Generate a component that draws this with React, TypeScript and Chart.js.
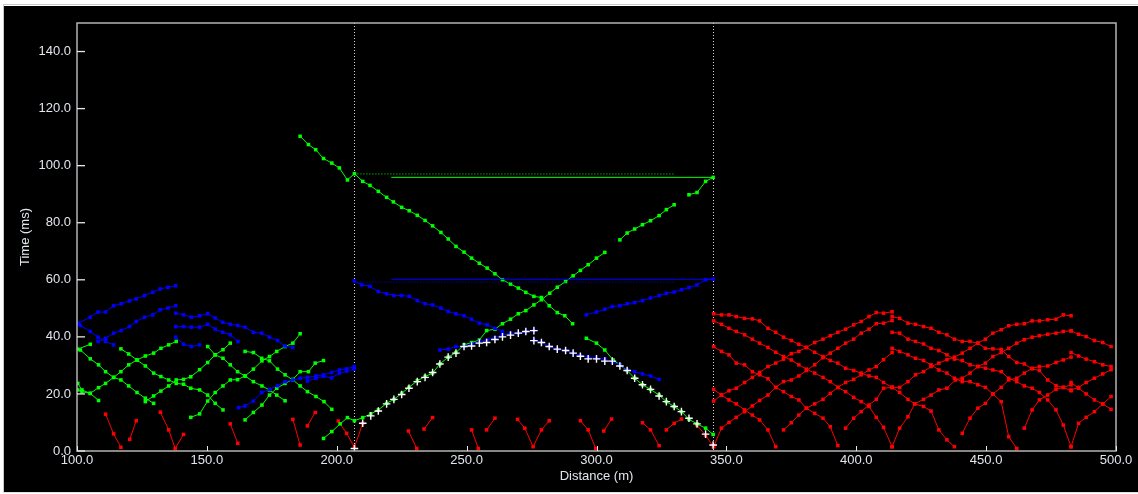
import React, { useEffect, useRef } from "react";
import { Chart, registerables } from "chart.js";

Chart.register(...registerables);

type Pt = [number, number];

// ---------- axes ----------
const xTickValues = [100, 150, 200, 250, 300, 350, 400, 450, 500];
const yTickValues = [0, 20, 40, 60, 80, 100, 120, 140];
const shotLines = [206.8, 345];

// ---------- green travel-time curves ----------
const greenLines: Pt[][] = [
  [[100.3, 35.7], [105.1, 37.4]],
  [[101.3, 35.4], [105.1, 32.3], [108.3, 30.2], [111, 27.8], [114.1, 25.8], [116.9, 24.9], [119.9, 22.8], [123.1, 20.5], [126.3, 18.5], [129.5, 16.7]],
  [[100.3, 21.4], [101.9, 20.8], [105.1, 20.2], [108.3, 22.2], [111, 23.7], [114.1, 25.8], [116.9, 27.8], [119.9, 30.2], [123.1, 31.9], [126.3, 33.3], [129.5, 34.3], [132.3, 36.0], [135.3, 37.2], [138.2, 38.4]],
  [[100.3, 23.7], [101.9, 21.4], [105.1, 20.2], [108.3, 17.7]],
  [[116.9, 35.8], [119.9, 34.0], [123.1, 31.9], [126.3, 29.8], [129.5, 27.3], [132.3, 26.1], [135.3, 24.9], [138.2, 23.7], [141, 23.4], [143.8, 22.0], [147.2, 21.4], [150.3, 19.6], [153.2, 16.7], [156.2, 14.4]],
  [[126.3, 17.3], [129.5, 19.3], [132.3, 21.0], [135.3, 22.8], [138.2, 24.9], [141, 25.1], [143.8, 26.0], [147.2, 28.5], [150.3, 31.0], [153.2, 33.7], [156.2, 35.5], [159, 37.8]],
  [[150.3, 36.6], [153.2, 33.7], [156.2, 32.5], [159, 30.2], [161.8, 27.8], [164.7, 26.3], [167.9, 24.3], [171.2, 22.8], [174.1, 21.4], [176.9, 19.6], [180.1, 17.6]],
  [[143.8, 11.8], [147.2, 13.0], [150.3, 17.5], [153.2, 20.5], [156.2, 22.8], [159, 24.9], [161.8, 25.0], [164.7, 26.3], [167.9, 28.7], [171.2, 31.6], [174.1, 33.1], [176.9, 34.9], [180.1, 36.6], [183.1, 37.8], [185.9, 41.1]],
  [[164.7, 34.9], [167.9, 34.5], [171.1, 32.5], [174.1, 31.6], [177.2, 28.7], [180.1, 26.7], [183.1, 24.9], [185.9, 22.8], [188.7, 20.8], [192, 19.1], [195.1, 17.3], [198.1, 14.6]],
  [[164.7, 10.9], [167.9, 13.5], [171.2, 16.1], [174.1, 19.6], [176.9, 22.0], [180.1, 23.7], [183.1, 25.1], [185.9, 27.8], [189.1, 27.8], [191.7, 30.8], [194.9, 31.7]],
  [[194.9, 4.4], [198.1, 6.8], [201.3, 9.5], [204.1, 11.7], [206.8, 10.6], [210, 11.7], [213.1, 13.0], [216, 14.4], [219.2, 16.7], [222, 18.1], [225, 20.2], [227.8, 22.3], [231, 24.6], [234, 26.1], [236.9, 27.3], [239.7, 30.5], [242.9, 32.9], [245.9, 34.5], [249, 37.2], [251.9, 38.0], [254.9, 38.9], [257.7, 42.2], [260.9, 42.7], [263.8, 44.6], [266.9, 46.2], [269.9, 48.1], [272.8, 49.2], [275.9, 51.2], [278.8, 53.0], [282, 55.3], [284.9, 57.4], [288.1, 59.4], [291, 61.4], [293.8, 63.3], [296.8, 65.3], [300, 67.6], [303.2, 69.6]],
  [[309, 74.0], [311.8, 76.4], [314.7, 77.8], [317.7, 79.3], [320.8, 80.7], [324.1, 82.5], [326.9, 84.6], [329.9, 86.3]],
  [[335.6, 89.8], [338.7, 90.6], [342, 94.5], [344.9, 95.9]],
  [[185.9, 110.3], [189.1, 107.4], [191.9, 105.6], [194.9, 102.5], [198.1, 100.9], [201, 99.2], [204.1, 95.0], [206.8, 97.2], [210, 94.5], [212.8, 93.1], [216, 91.0], [219.2, 88.9], [221.8, 87.3], [225, 85.4], [227.9, 84.2], [231, 82.6], [234, 80.8], [236.9, 78.9], [240.1, 76.6], [242.9, 74.3], [245.9, 71.7], [249, 69.7], [251.9, 67.6], [254.9, 65.8], [257.9, 64.1], [260.9, 62.1], [263.8, 60.0], [266.9, 58.5], [269.9, 57.1], [272.8, 55.6], [275.9, 54.2], [278.8, 53.8], [281.8, 50.9], [284.9, 48.5], [287.8, 47.4], [290.8, 44.6]],
  [[296.1, 39.5], [300, 37.8], [303.2, 35.4], [306.4, 31.9], [309, 30.2], [311.8, 28.2], [314.7, 25.5], [317.7, 23.2], [320.8, 21.6], [324.1, 19.6], [326.9, 17.3], [329.9, 15.6], [332.7, 13.8], [335.6, 11.1], [338.7, 9.5], [342, 8.0], [344.9, 5.8]],
];

// ---------- blue travel-time curves ----------
const blueLines: Pt[][] = [
  [[100.6, 44.8], [105.1, 46.9], [108.1, 48.7], [111, 48.7], [114.1, 50.9], [117, 51.6], [120.2, 52.6], [122.8, 53.3], [126, 54.5], [129.2, 55.6], [132, 56.8], [135, 57.4], [138, 57.9]],
  [[101.3, 44.0], [105.1, 41.9], [108.1, 39.9], [111, 38.4], [114.1, 37.2]],
  [[108.1, 38.4], [111, 39.5], [114.1, 41.3], [117, 42.2], [120.2, 43.6], [122.8, 45.4], [126, 46.9], [129.2, 47.7], [132, 49.5], [135, 50.1], [138, 50.9]],
  [[138, 48.3], [141, 47.7], [144, 46.9], [147.2, 47.4], [150.3, 48.1], [153.2, 46.6], [156.1, 45.1], [159, 44.4], [161.9, 44.0], [164.7, 43.4], [167.9, 41.6], [171.1, 41.3], [174.1, 39.9], [177.2, 38.7], [180.1, 36.8], [183.1, 36.3]],
  [[138, 43.6], [141, 43.6], [144, 43.4], [147.2, 43.4], [150.3, 44.4], [153.2, 42.7], [156.1, 41.6], [159, 40.7], [162, 38.4]],
  [[138, 39.9], [141, 37.4], [144, 36.6], [147.2, 37.2]],
  [[162.2, 15.2], [164.7, 15.8], [167.9, 17.5], [171.1, 20.5], [174.1, 21.6], [177.2, 22.9], [180.1, 24.3], [183.1, 24.9], [185.9, 25.5], [188.7, 25.8], [192, 26.3], [194.9, 26.7], [198, 27.5], [201, 28.4], [203.8, 28.8], [206.7, 29.6]],
  [[188.7, 24.5], [192, 25.5], [194.9, 26.2], [198, 25.6], [201, 27.3], [203.8, 28.0], [206.7, 28.7]],
  [[206.8, 59.6], [209.6, 58.2], [212.8, 57.7], [216, 55.9], [219.2, 55.1], [222, 54.5], [225, 54.5], [227.9, 54.2], [231, 52.7], [234, 51.6], [236.9, 51.2], [240.1, 50.1], [242.9, 48.9], [245.9, 48.1], [249, 47.4], [251.9, 46.2], [254.9, 44.8], [257.9, 44.2], [260.9, 43.0], [263.8, 41.9]],
  [[296.1, 47.7], [300, 48.7], [303.2, 49.7], [306.1, 50.6], [309, 50.9], [311.8, 51.6], [314.7, 52.0], [317.7, 52.7], [320.8, 53.6], [324.1, 54.5], [326.9, 55.3], [329.9, 55.7], [332.7, 56.5], [335.6, 57.3], [338.7, 58.2], [342, 60.0], [344.9, 60.2]],
  [[239.7, 35.4], [242.9, 35.7], [245.9, 36.6], [249, 36.6], [251.9, 37.5], [254.9, 38.4], [257.9, 38.9], [260.9, 39.8], [263.8, 40.7], [266.9, 41.3], [269.9, 41.3], [272.8, 41.9], [275.9, 42.2]],
  [[275.9, 38.7], [278.8, 38.0], [281.8, 36.6], [284.9, 35.7], [288.1, 35.2], [291, 34.3], [293.8, 33.5], [296.8, 32.9], [300, 32.5], [303.2, 32.2], [306.1, 31.3], [309, 30.2], [311.8, 28.4], [314.7, 27.8], [317.7, 27.0], [320.8, 26.3], [324.1, 25.1]],
];

// ---------- red travel-time curves ----------
const redLines: Pt[][] = [
  // short near-shot picks
  [[111, 12.9], [114.1, 6.0], [116.9, 1.3]],
  [[120.3, 4.1], [122.8, 10.6]],
  [[132.1, 13.6], [135.3, 7.4], [137.8, 0.9], [141, 5.8]],
  [[159, 9.5], [161.9, 2.7]],
  [[183.1, 11.1], [185.9, 2.1]],
  [[188.7, 8.8], [191.7, 13.5]],
  [[200.6, 10.5], [203.8, 6.2], [206.8, 1.3], [210, 9.7]],
  [[227.6, 7.0], [230.8, 0.9]],
  [[233.6, 7.7], [236.9, 11.7]],
  [[251.9, 7.4], [254.5, 0.9]],
  [[257.7, 7.4], [260.9, 11.5]],
  [[269.6, 11.1], [272.4, 8.0], [275.6, 1.5], [278.8, 7.4], [281.8, 10.6]],
  [[293.8, 10.6], [296.8, 7.4], [299.7, 0.9]],
  [[302.8, 7.0], [305.8, 11.2]],
  [[317.7, 9.9], [320.8, 7.4], [324.1, 1.9]],
  [[326.9, 7.4], [329.9, 9.7], [332.7, 11.2]],
  [[338.7, 9.0], [342, 5.5], [345, 1.5]],
  // spread 345-414
  [[345.1, 48.1], [348.1, 47.7], [351, 47.7], [353.8, 47.1], [357, 46.5], [360, 46.3], [362.8, 45.6], [366, 43.0], [369, 41.6], [372, 39.9], [375, 38.7], [377.9, 37.4], [380.8, 36.3], [384, 34.6], [387.2, 33.1], [390, 31.7], [392.9, 30.8], [395.9, 29.0], [399, 28.2], [401.9, 27.3], [404.9, 26.3], [407.7, 25.8], [410.5, 24.0], [413.8, 22.3]],
  [[345.1, 45.6], [348.1, 44.4], [351, 43.0], [353.8, 41.9], [357, 40.7], [360, 39.2], [362.8, 37.8], [366, 36.3], [369, 34.6], [372, 33.1], [375, 31.9], [377.9, 30.2], [380.8, 28.7], [384, 27.3], [387.2, 25.8], [390, 24.3], [392.9, 22.3], [395.9, 20.8], [399, 18.8], [401.9, 17.3], [404.9, 15.6], [407.7, 11.8], [410.5, 8.3], [413.8, 1.5]],
  [[345.1, 36.6], [348.1, 34.9], [351, 33.7], [353.8, 30.8], [357, 30.2], [360, 27.8], [362.8, 26.7], [366, 25.3], [369, 22.3], [372, 20.8], [375, 19.1], [377.9, 17.9], [380.8, 15.0], [384, 13.2], [387.2, 11.5], [390, 8.5], [392.9, 1.9]],
  [[345.1, 21.6], [348.1, 19.6], [351, 17.9], [353.8, 16.5], [357, 14.4], [360, 12.6], [362.8, 10.9], [366, 7.4], [369, 1.5]],
  [[345.1, 17.5], [348.1, 19.6], [351, 21.1], [353.8, 22.0], [357, 24.0], [360, 25.8], [362.8, 27.5], [366, 29.6], [369, 30.8], [372, 32.2], [375, 34.1], [377.9, 34.9], [380.8, 36.3], [384, 38.0], [387.2, 39.2], [390, 40.4], [392.9, 41.6], [395.9, 42.7], [399, 44.2], [401.9, 45.4], [404.9, 47.1], [407.7, 48.5], [410.5, 48.3], [413.8, 48.8]],
  [[345.1, 1.5], [348.1, 8.0], [351, 10.0], [353.8, 11.8], [357, 13.8], [360, 15.8], [362.8, 17.7], [366, 19.6], [369, 22.3], [372, 24.3], [375, 24.9], [377.9, 26.3], [380.8, 28.2], [384, 30.2], [387.2, 32.7], [390, 34.3], [392.9, 36.0], [395.9, 37.8], [399, 39.2], [401.9, 41.3], [404.9, 42.7], [407.7, 44.6], [410.5, 44.8], [413.8, 45.7]],
  [[372, 7.4], [375, 9.9], [377.9, 12.6], [380.8, 15.0], [384, 16.5], [387.2, 18.1], [390, 20.2], [392.9, 22.3], [395.9, 24.0], [399, 25.1], [401.9, 26.7], [404.9, 28.4], [407.7, 29.6], [410.5, 32.0], [413.8, 34.5]],
  [[395.9, 8.0], [399, 11.5], [401.9, 13.8], [404.9, 16.1], [407.7, 18.1], [410.5, 22.0], [413.8, 22.3]],
  // spread 414-483
  [[413.8, 47.1], [416.7, 46.5], [419.9, 44.8], [422.8, 44.4], [425.9, 43.6], [428.8, 43.0], [431.8, 41.6], [434.9, 40.7], [437.8, 39.2], [440.8, 38.4], [443.8, 38.4], [446.8, 37.8], [449.7, 36.0], [452.6, 35.8], [455.8, 35.6], [458.7, 33.1], [461.8, 31.0], [464.7, 30.5], [467.7, 28.8], [470.5, 28.2], [473.7, 24.9], [476.9, 22.9], [479.7, 22.3], [482.7, 21.1]],
  [[413.8, 41.6], [416.7, 41.3], [419.9, 39.2], [422.8, 38.4], [425.9, 37.5], [428.8, 36.0], [431.8, 35.2], [434.9, 33.7], [437.8, 32.2], [440.8, 31.7], [443.8, 30.2], [446.8, 29.6], [449.7, 29.0], [452.6, 28.4], [455.8, 27.8], [458.7, 25.5], [461.8, 24.3], [464.7, 22.8], [467.7, 22.0], [470.5, 20.5], [473.7, 17.9], [476.9, 14.4], [479.7, 9.1], [482.7, 1.5]],
  [[413.8, 36.0], [416.7, 34.9], [419.9, 33.7], [422.8, 32.5], [425.9, 31.7], [428.8, 30.2], [431.8, 28.4], [434.9, 27.3], [437.8, 25.5], [440.8, 24.3], [443.8, 24.3], [446.8, 23.2], [449.7, 22.3], [452.6, 20.0], [455.8, 17.3], [458.7, 5.0], [461.8, 0.9]],
  [[413.8, 22.3], [416.7, 22.3], [419.9, 24.3], [422.8, 26.7], [425.9, 27.8], [428.8, 29.6], [431.8, 30.8], [434.9, 32.0], [437.8, 32.9], [440.8, 34.3], [443.8, 36.0], [446.8, 37.8], [449.7, 39.2], [452.6, 41.3], [455.8, 42.5], [458.7, 43.9], [461.8, 44.4], [464.7, 44.6], [467.7, 45.6], [470.5, 45.6], [473.7, 46.0], [476.9, 46.2], [479.7, 47.7], [482.7, 47.4]],
  [[413.8, 1.5], [416.7, 8.0], [419.9, 12.0], [422.5, 16.5], [425.9, 18.1], [428.8, 19.6], [431.8, 21.4], [434.9, 22.0], [438.2, 24.9], [440.8, 25.5], [443.8, 27.3], [446.8, 29.6], [449.7, 30.8], [452.6, 33.1], [455.8, 34.5], [458.7, 36.0], [461.8, 37.8], [464.7, 39.0], [467.7, 39.9], [470.5, 40.4], [473.7, 40.9], [476.9, 41.3], [479.7, 41.9], [482.7, 42.1]],
  [[437.8, 1.5], [434.9, 3.9], [431.8, 7.4], [428.8, 14.0], [425.9, 15.6], [422.5, 16.5], [419.9, 18.1], [416.7, 20.5], [413.8, 22.3]],
  [[440.8, 6.2], [443.8, 11.5], [446.8, 15.0], [449.7, 16.7], [452.6, 20.0], [455.8, 22.3], [458.7, 24.9], [461.8, 25.5], [464.7, 27.3], [467.7, 29.0], [470.5, 29.6], [473.7, 29.8], [476.9, 31.0], [479.7, 31.9], [482.7, 32.9]],
  [[464.7, 8.0], [467.7, 14.4], [470.5, 17.9], [473.7, 19.6], [476.9, 21.6], [479.7, 22.3], [482.7, 23.2]],
  // spread 483-500
  [[482.7, 1.5], [485.6, 9.7], [488.5, 11.8], [491.7, 13.8], [494.9, 16.5], [498.1, 19.1]],
  [[482.7, 42.1], [485.6, 40.9], [488.5, 40.1], [491.7, 38.7], [494.9, 38.0], [498.1, 36.6]],
  [[482.7, 34.5], [485.6, 33.3], [488.5, 32.2], [491.7, 31.3], [494.9, 30.2], [498.1, 29.6]],
  [[482.7, 21.4], [485.6, 22.3], [488.5, 24.0], [491.7, 25.5], [494.9, 27.0], [498.1, 28.5]],
  [[482.7, 24.0], [485.6, 22.0], [488.5, 20.0], [491.7, 17.9], [494.9, 16.5], [498.1, 14.6]],
];

// ---------- first-arrival picks (white crosses) ----------
const picksLeft: Pt[] = [[206.8, 0.9], [210, 9.7], [213.1, 12.3], [216, 14.0], [219.2, 16.5], [222, 18.1], [225, 19.8], [227.8, 22.0], [231, 24.3], [234, 25.8], [236.9, 27.5], [239.7, 30.5], [242.9, 32.9], [245.9, 34.3], [249, 36.6], [251.9, 36.8], [254.9, 37.8], [257.7, 38.0], [260.9, 39.1], [263.8, 40.0], [266.9, 40.6], [269.9, 41.3], [272.8, 41.9], [275.9, 42.2]];
const picksRight: Pt[] = [[275.9, 38.7], [278.8, 38.0], [281.8, 36.6], [284.9, 35.7], [288.1, 35.2], [291, 34.3], [293.8, 33.2], [296.8, 32.3], [300, 32.3], [303.2, 31.5], [306.1, 31.5], [309, 29.8], [311.8, 28.2], [314.7, 25.5], [317.7, 23.2], [320.8, 21.6], [324.1, 19.3], [326.9, 17.3], [329.9, 15.6], [332.7, 13.8], [335.6, 11.5], [338.7, 9.5], [342, 5.9], [344.9, 2.1]];

// ---------- horizontal reference levels ----------
const greenLevelSolid: Pt[] = [[221, 95.9], [345, 95.9]];
const greenLevelDotted: Pt[] = [[206.8, 97.1], [330, 97.1]];
const blueLevelSolid: Pt[] = [[221, 60.2], [345, 60.2]];
const blueLevelDotted: Pt[] = [[206.8, 59.2], [330, 59.2]];

const GREEN = "#00ff00";
const BLUE = "#0000ff";
const RED = "#ff0000";
const TEXT = "#e2e6ec";
const FONT = "'Liberation Sans', Arial, sans-serif";

const toXY = (pts: Pt[]) => pts.map(([x, y]) => ({ x, y }));

const curve = (pts: Pt[], color: string, order: number) => ({
  data: toXY(pts),
  borderColor: color,
  backgroundColor: color,
  borderWidth: 1,
  pointStyle: "rect",
  pointRadius: 2.5,
  pointHoverRadius: 2.5,
  pointBorderWidth: 0,
  showLine: true,
  tension: 0,
  fill: false,
  order,
});

const level = (pts: Pt[], color: string, dotted: boolean) => ({
  data: toXY(pts),
  borderColor: color,
  backgroundColor: color,
  borderWidth: 1,
  borderDash: dotted ? [1, 2] : [],
  pointRadius: 0,
  showLine: true,
  fill: false,
  order: 1,
});

const picks = (pts: Pt[]) => ({
  data: toXY(pts),
  borderColor: "#ffffff",
  backgroundColor: "#ffffff",
  pointStyle: "cross",
  pointRadius: 3.8,
  pointHoverRadius: 3.8,
  pointBorderWidth: 1.4,
  showLine: false,
  order: 0,
});

const decor = {
  id: "decor",
  beforeDraw(chart: any) {
    const { ctx, width, height } = chart;
    ctx.save();
    ctx.fillStyle = "#ffffff";
    ctx.fillRect(0, 0, width, height);
    ctx.strokeStyle = "#c8c8c8";
    ctx.lineWidth = 1;
    ctx.strokeRect(3.5, 4.5, width + 4, height - 6.5);
    ctx.fillStyle = "#000000";
    ctx.fillRect(4, 6, width - 4, 486);
    ctx.restore();
  },
  beforeDatasetsDraw(chart: any) {
    const { ctx, chartArea, scales } = chart;
    ctx.save();
    ctx.strokeStyle = "#d8d8d8";
    ctx.lineWidth = 1;
    ctx.setLineDash([1, 2]);
    for (const v of shotLines) {
      const px = Math.round(scales.x.getPixelForValue(v)) + 0.5;
      ctx.beginPath();
      ctx.moveTo(px, chartArea.top);
      ctx.lineTo(px, chartArea.bottom);
      ctx.stroke();
    }
    ctx.restore();
  },
  afterDraw(chart: any) {
    const { ctx, chartArea, scales } = chart;
    const { left, right, top, bottom } = chartArea;
    ctx.save();
    ctx.strokeStyle = "#b4b4b4";
    ctx.lineWidth = 1.5;
    ctx.strokeRect(left, top, right - left, bottom - top);
    ctx.strokeStyle = "#e8e8e8";
    ctx.lineWidth = 1.3;
    for (const v of yTickValues) {
      const py = scales.y.getPixelForValue(v);
      ctx.beginPath();
      ctx.moveTo(left, py);
      ctx.lineTo(left + 8, py);
      ctx.stroke();
    }
    ctx.lineWidth = 1;
    for (const v of xTickValues) {
      const px = Math.round(scales.x.getPixelForValue(v)) + 0.5;
      ctx.beginPath();
      ctx.moveTo(px, bottom);
      ctx.lineTo(px, bottom - 5);
      ctx.stroke();
    }
    ctx.restore();
  },
};

export default function App() {
  const ref = useRef<HTMLCanvasElement | null>(null);

  useEffect(() => {
    if (!ref.current) return;
    const datasets: any[] = [
      picks(picksLeft),
      picks(picksRight),
      level(greenLevelSolid, GREEN, false),
      level(greenLevelDotted, GREEN, true),
      level(blueLevelSolid, BLUE, false),
      level(blueLevelDotted, BLUE, true),
      ...blueLines.map((l) => curve(l, BLUE, 2)),
      ...greenLines.map((l) => curve(l, GREEN, 3)),
      ...redLines.map((l) => curve(l, RED, 4)),
    ];
    const chart = new Chart(ref.current, {
      type: "scatter",
      data: { datasets },
      options: {
        animation: false,
        responsive: false,
        devicePixelRatio: 1,
        events: [],
        layout: { padding: { left: 0, right: 22, top: 23, bottom: 0 } },
        plugins: {
          legend: { display: false },
          tooltip: { enabled: false },
        },
        scales: {
          x: {
            type: "linear",
            min: 100,
            max: 500,
            afterFit: (s: any) => {
              s.height = 43;
            },
            afterBuildTicks: (s: any) => {
              s.ticks = xTickValues.map((v) => ({ value: v }));
            },
            ticks: {
              autoSkip: false,
              maxRotation: 0,
              padding: 2,
              color: TEXT,
              font: { family: FONT, size: 13 },
              callback: (v: any) => Number(v).toFixed(1),
            },
            grid: { display: false, drawTicks: false },
            border: { display: false },
            title: {
              display: true,
              text: "Distance (m)",
              color: TEXT,
              font: { family: FONT, size: 13 },
              padding: { top: 0, bottom: 10 },
            },
          },
          y: {
            type: "linear",
            min: 0,
            max: 150,
            afterFit: (s: any) => {
              s.width = 77;
            },
            afterBuildTicks: (s: any) => {
              s.ticks = yTickValues.map((v) => ({ value: v }));
            },
            ticks: {
              autoSkip: false,
              padding: 6,
              color: TEXT,
              font: { family: FONT, size: 13 },
              callback: (v: any) => Number(v).toFixed(1),
            },
            grid: { display: false, drawTicks: false },
            border: { display: false },
            title: {
              display: true,
              text: "Time (ms)",
              color: TEXT,
              font: { family: FONT, size: 13 },
              padding: { top: 18, bottom: 0 },
            },
          },
        },
      },
      plugins: [decor],
    } as any);
    return () => chart.destroy();
  }, []);

  return (
    <div style={{ position: "absolute", left: 0, top: 0, width: 1138, height: 494 }}>
      <canvas ref={ref} width={1138} height={494} style={{ display: "block" }} />
    </div>
  );
}
